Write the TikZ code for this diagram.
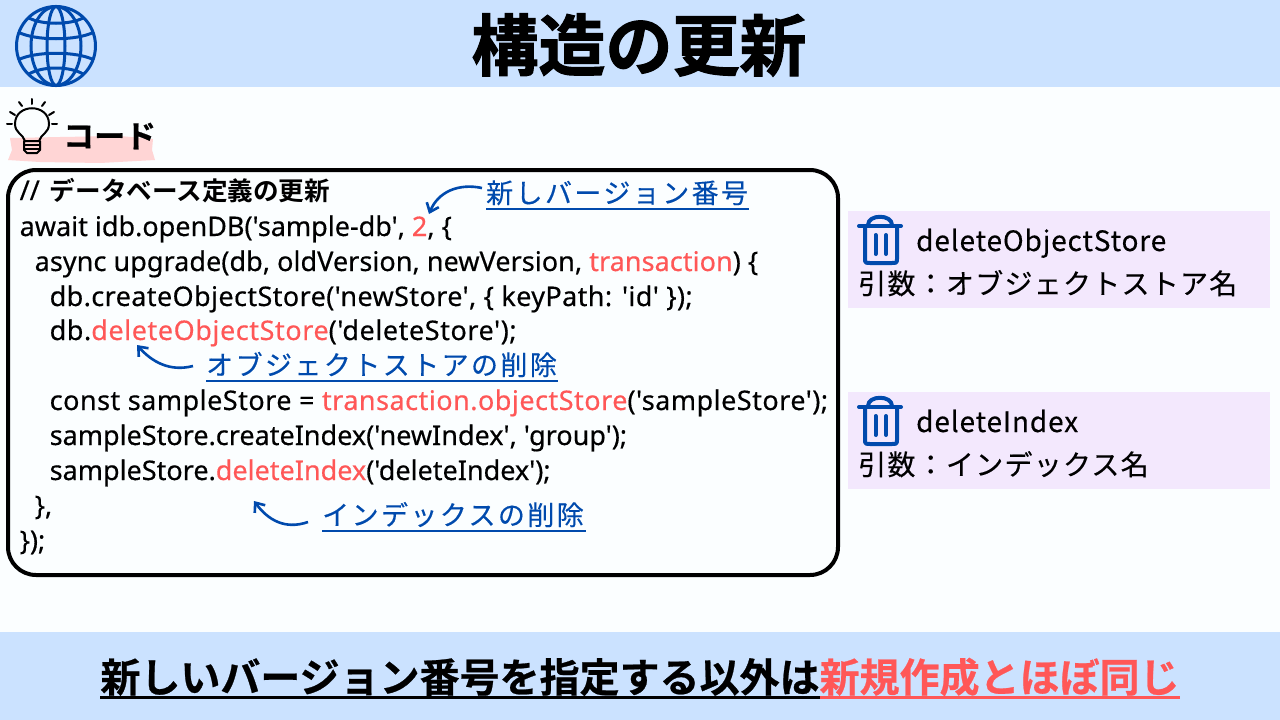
\documentclass[tikz,border=0pt]{standalone}
\usepackage{fontspec}
\usetikzlibrary{arrows.meta}
\setmainfont{Noto Sans}
\newfontfamily\jpbold[FakeBold=0.6]{Noto Sans CJK JP Bold}
\newfontfamily\jpcomment{Noto Sans CJK JP Bold}
\newfontfamily\jphead[FakeBold=1.6]{Noto Sans CJK JP Bold}
\newfontfamily\jpwide[LetterSpace=9,FakeBold=0.3]{Noto Sans CJK JP}
\newfontfamily\hand[LetterSpace=3,FakeBold=0.3]{Noto Sans CJK JP}
\newfontfamily\handjp[LetterSpace=4.5,FakeBold=0.3]{Noto Sans CJK JP}
\newfontfamily\codefont[FakeBold=0.4]{Noto Sans}
\definecolor{headblue}{HTML}{CBE2FF}
\definecolor{inkblue}{HTML}{004AAD}
\definecolor{hotred}{HTML}{FF5757}
\definecolor{brushpink}{HTML}{FFD5D5}
\definecolor{panelpurple}{HTML}{F3E8FD}
\definecolor{paper}{HTML}{FBFEFF}
\newcommand{\hot}[1]{\textcolor{hotred}{#1}}
\newcommand{\track}[1]{\addfontfeature{LetterSpace=#1}}
\tikzset{
	code/.style={anchor=base west,inner sep=0pt,font=\fontsize{27}{27}\selectfont\codefont},
	note/.style={anchor=base west,inner sep=0pt,text=inkblue,font=\fontsize{27}{27}\selectfont\jpwide},
	hint/.style={-{Straight Barb[length=8pt,width=13pt]},inkblue,line width=2.6pt},
	rule/.style={inkblue,line width=2pt},
	panel/.style={fill=panelpurple,draw=none},
	handtext/.style={anchor=base west,inner sep=0pt,font=\fontsize{28}{28}\selectfont\hand},
	handarg/.style={anchor=base west,inner sep=0pt,font=\fontsize{28}{28}\selectfont\handjp},
	icon/.style={inkblue,line width=4pt,line cap=round,line join=round},
}
\begin{document}
\begin{tikzpicture}[x=1pt,y=-1pt]
	\useasboundingbox (0,0) rectangle (1280,720);
	\fill[paper] (0,0) rectangle (1280,720);
	\fill[headblue] (0,0) rectangle (1280,87);
	\fill[headblue] (0,632) rectangle (1280,720);
	% globe
	\begin{scope}[inkblue,line width=3pt]
		\draw (56,46) circle (39.5);
		\draw (56,46) ellipse (25 and 39.5);
		\draw (56,46) ellipse (9 and 39.5);
		\draw (29,18) .. controls (42,25) and (70,25) .. (83,18);
		\draw (18,32) .. controls (35,41) and (77,41) .. (94,32);
		\draw (18,60) .. controls (35,51) and (77,51) .. (94,60);
		\draw (29,74) .. controls (42,66) and (70,66) .. (83,74);
	\end{scope}
	\node[inner sep=0pt,font=\fontsize{67}{67}\selectfont\jphead] (title) at (639,45) {構造の更新};
	% heading with brush and bulb
	\fill[brushpink] (10,138) -- (60,137) -- (120,136) -- (153,139) -- (152,150) -- (155,160) -- (100,163) -- (40,162) -- (8,160) -- (12,150) -- cycle;
	\begin{scope}[black,line width=2pt,line cap=round]
		\draw (25,141) .. controls (23,134) and (15,133) .. (15,124) .. controls (15,103) and (49,103) .. (49,124) .. controls (49,133) and (41,134) .. (39,141);
		\draw[line join=round] (24,141) -- (40,141) -- (40,150) -- (37,153) -- (27,153) -- (24,150) -- cycle;
		\draw (25,145) -- (39,145);
		\draw (25,149) -- (39,149);
		\draw (7,124) -- (12,124);
		\draw (10,112) -- (15,115);
		\draw (19,102) -- (22,106);
		\draw (32,99) -- (32,104);
		\draw (45,102) -- (42,106);
		\draw (54,112) -- (49,115);
		\draw (57,124) -- (52,124);
	\end{scope}
	\node[inner sep=0pt,anchor=west,font=\fontsize{31}{31}\selectfont\jpbold] (heading) at (63,136) {コード};
	% code box
	\node[draw=black,line width=4pt,outer sep=0pt,rounded corners=28pt,minimum width=830pt,minimum height=405pt,anchor=north west] (codebox) at (8,170) {};
	\node[code] (line1) at (19.5,200) {//\hspace{3pt} {\jpcomment\fontsize{25.6}{25.6}\selectfont データベース定義の更新}};
	\node[code] (line2) at (19.5,236) {await idb.openDB('sample-db', \hot{2}, \{};
	\node[code] (line3) at (34.5,271) {\track{0.2}async upgrade(db, oldVersion, newVersion, \hot{transaction}) \{};
	\node[code] (line4) at (49.5,306) {\track{1.45}db.createObjectStore('newStore', \{ keyPath: 'id' \});};
	\node[code] (line5) at (49.5,340) {\track{2.1}db.\hot{deleteObjectStore}('deleteStore');};
	\node[code] (line6) at (49.5,410) {\track{1.8}const sampleStore = \hot{transaction.objectStore}('sampleStore');};
	\node[code] (line7) at (49.5,445) {sampleStore.createIndex('newIndex', 'group');};
	\node[code] (line8) at (49.5,480) {sampleStore.\hot{deleteIndex}('deleteIndex');};
	\node[code] (line9) at (34.5,515) {\},};
	\node[code] (line10) at (19.5,550) {\});};
	% notes and arrows
	\node[note] (noteversion) at (486,203) {新しバージョン番号};
	\node[note] (notestore) at (206,375) {オブジェクトストアの削除};
	\node[note] (noteindex) at (322,525) {インデックスの削除};
	\draw[rule] (noteversion.base west)+(0,6) -- ++(263,6);
	\draw[rule] (notestore.base west)+(0,6) -- ++(352,6);
	\draw[rule] (noteindex.base west)+(0,6) -- ++(264,6);
	\coordinate (tipversion) at (429,214);
	\coordinate (tipstore) at (137,345);
	\coordinate (tipindex) at (254,501);
	\draw[hint] (482,188) .. controls (458,183) and (438,192) .. (tipversion);
	\draw[hint] (193,366) .. controls (170,372) and (152,362) .. (tipstore);
	\draw[hint] (308,522) .. controls (285,530) and (268,520) .. (tipindex);
	% right panels
	\fill[panel] (848,211) rectangle (1270,308);
	\fill[panel] (848,392) rectangle (1270,489);
	\foreach \y in {0,181}{
		\begin{scope}[yshift=-\y pt]
			\draw[icon] (859,226) -- (901,226);
			\draw[icon] (868,225) .. controls (868,214) and (892,214) .. (892,225);
			\draw[icon] (865,227) -- (865,259) .. controls (865,263) and (866,263) .. (870,263) -- (892,263) .. controls (896,263) and (897,263) .. (897,259) -- (897,227);
			\draw[icon] (875.5,235) -- (875.5,254);
			\draw[icon] (886,235) -- (886,254);
		\end{scope}
	}
	\node[handtext] (storename) at (916,251) {deleteObjectStore};
	\node[handarg] (storearg) at (858,294) {引数：オブジェクトストア名};
	\node[handtext] (indexname) at (916,432) {deleteIndex};
	\node[handarg] (indexarg) at (858,475) {引数：インデックス名};
	% bottom line
	\node[inner sep=0pt,font=\fontsize{40}{40}\selectfont\jpbold] (summary) at (640,677) {新しいバージョン番号を指定する以外は\hot{新規作成とほぼ同じ}};
	\draw[black,line width=3pt] (100,697) -- (820,697);
	\draw[hotred,line width=3pt] (820,697) -- (1180,697);
\end{tikzpicture}
\end{document}
